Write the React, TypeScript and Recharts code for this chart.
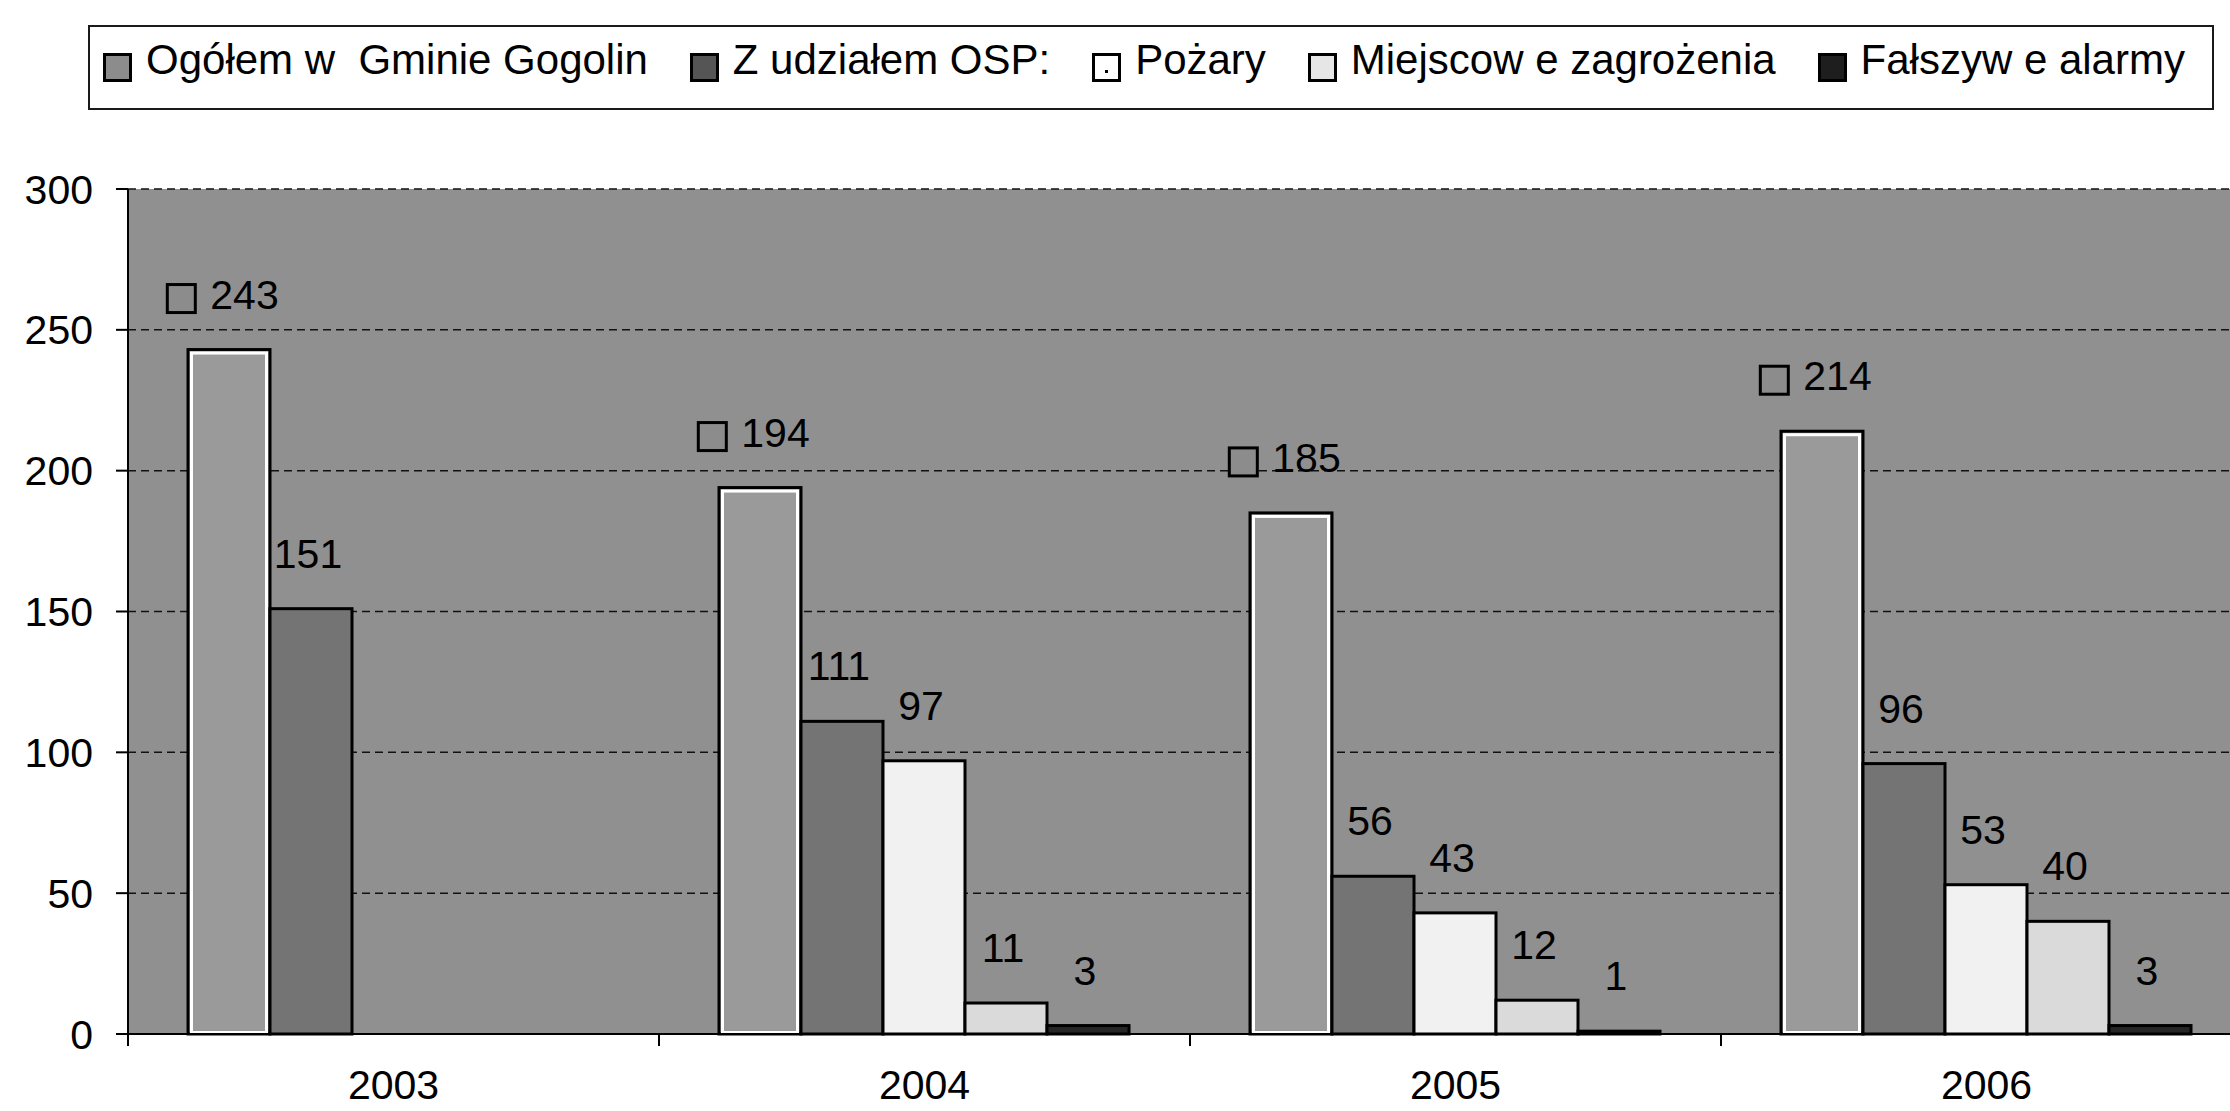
import React from 'react';
import { BarChart, Bar, XAxis, YAxis, CartesianGrid, LabelList } from 'recharts';

const years = ['2003', '2004', '2005', '2006'];
const ogolem = [243, 194, 185, 214];
const zUdzialemOSP = [151, 111, 56, 96];
const pozary = [null, 97, 43, 53];
const miejscoweZagrozenia = [null, 11, 12, 40];
const falszyweAlarmy = [null, 3, 1, 3];
const yTicks = [0, 50, 100, 150, 200, 250, 300];
const seriesNames = [
  'Ogółem w  Gminie Gogolin',
  'Z udziałem OSP:',
  'Pożary',
  'Miejscow e zagrożenia',
  'Fałszyw e alarmy',
];
const seriesKeys = ['ogolem', 'zUdzialemOSP', 'pozary', 'miejscowe', 'falszywe'];

const FONT = '"Liberation Sans", Arial, Helvetica, sans-serif';
const COLORS = ['#9a9a9a', '#747474', '#f1f1f1', '#dadada', '#262626'];
const PLOT_BG = '#909090';

const data = years.map((year, i) => ({
  year,
  ogolem: ogolem[i],
  zUdzialemOSP: zUdzialemOSP[i],
  pozary: pozary[i],
  miejscowe: miejscoweZagrozenia[i],
  falszywe: falszyweAlarmy[i],
}));

const OutlinedBar = (props: any) => {
  const { x, y, width, height, fill } = props;
  if (height == null || !(height > 0) || !isFinite(y)) return null;
  return <rect x={x} y={y} width={width} height={height} fill={fill} stroke="#000" strokeWidth={3} />;
};

const DoubleBar = (props: any) => {
  const { x, y, width, height, fill } = props;
  if (height == null || !(height > 0) || !isFinite(y)) return null;
  return (
    <g>
      <rect x={x} y={y} width={width} height={height} fill={fill} stroke="#000" strokeWidth={3} />
      {height > 10 && (
        <rect x={x + 3.5} y={y + 3.5} width={width - 7} height={height - 5} fill="none" stroke="#fff" strokeWidth={3} />
      )}
    </g>
  );
};

const getBox = (props: any) => {
  const vb = props.viewBox && props.viewBox.width != null ? props.viewBox : props;
  return { x: Number(vb.x), y: Number(vb.y), width: Number(vb.width) };
};

const ValueLabel = (props: any) => {
  const { value } = props;
  if (value == null) return null;
  const { x, y, width } = getBox(props);
  return (
    <text x={x + width / 2 - 3} y={y - 41} textAnchor="middle" fontSize={41} fontFamily={FONT} fill="#000">
      {value}
    </text>
  );
};

const TotalLabel = (props: any) => {
  const { value } = props;
  if (value == null) return null;
  const { x, y, width } = getBox(props);
  const cx = x + width / 2 - 6;
  const textW = String(value).length * 0.556 * 41;
  const groupW = 30 + 13 + textW;
  const left = cx - groupW / 2;
  const base = y - 41;
  return (
    <g>
      <rect x={left} y={base - 24} width={28} height={28} fill="#8c8c8c" stroke="#000" strokeWidth={3} />
      <text x={left + 43} y={base} textAnchor="start" fontSize={41} fontFamily={FONT} fill="#000">
        {value}
      </text>
    </g>
  );
};

const YearTick = (props: any) => {
  const { x, y, payload } = props;
  const off = payload && payload.offset != null ? payload.offset : 265.5;
  return (
    <g>
      <line x1={x - off} x2={x - off} y1={y} y2={y + 12} stroke="#000" strokeWidth={2} />
      <text x={x} y={y + 65} textAnchor="middle" fontSize={41} fontFamily={FONT} fill="#000">
        {payload.value}
      </text>
    </g>
  );
};

const markerStyles: React.CSSProperties[] = [
  { background: '#8c8c8c' },
  { background: '#555555' },
  { background: '#ffffff' },
  { background: '#e6e6e6' },
  { background: '#1e1e1e' },
];

const LegendBox = () => (
  <div
    style={{
      position: 'absolute',
      left: 88,
      top: 25,
      width: 2126,
      height: 85,
      boxSizing: 'border-box',
      border: '2px solid #1a1a1a',
      background: '#fff',
      display: 'flex',
      alignItems: 'flex-start',
      justifyContent: 'space-between',
      padding: '9px 27px 0 13px',
      fontFamily: FONT,
      fontSize: 42,
      lineHeight: '48px',
      color: '#000',
    }}
  >
    {seriesNames.map((name, i) => (
      <div key={seriesKeys[i]} style={{ display: 'flex', alignItems: 'flex-start' }}>
        <div
          style={{
            width: 29,
            height: 29,
            marginTop: 17,
            marginRight: 14,
            boxSizing: 'border-box',
            border: '3px solid #000',
            position: 'relative',
            ...markerStyles[i],
          }}
        >
          {i === 2 && (
            <div style={{ position: 'absolute', left: 10, top: 14, width: 3, height: 3, background: '#000' }} />
          )}
        </div>
        <span style={{ whiteSpace: 'pre' }}>{name}</span>
      </div>
    ))}
  </div>
);

export default function App() {
  return (
    <div
      style={{
        position: 'absolute',
        left: 0,
        top: 0,
        width: 2230,
        height: 1111,
        overflow: 'hidden',
        background: '#fff',
      }}
    >
      <div style={{ position: 'absolute', left: 0, top: 0 }}>
        <BarChart
          width={2262}
          height={1140}
          data={data}
          margin={{ top: 189, right: 10, bottom: 26, left: 0 }}
          barCategoryGap={60}
          barGap={0}
        >
          <CartesianGrid
            vertical={false}
            horizontal={true}
            fill={PLOT_BG}
            stroke="#111"
            strokeWidth={1.5}
            strokeDasharray="8 5"
          />
          <XAxis
            dataKey="year"
            height={80}
            tickSize={0}
            tickMargin={0}
            tickLine={false}
            axisLine={{ stroke: '#000', strokeWidth: 2 }}
            tick={<YearTick />}
            interval={0}
          />
          <YAxis
            width={128}
            domain={[0, 300]}
            ticks={yTicks}
            interval={0}
            tickSize={12}
            tickMargin={23}
            axisLine={{ stroke: '#000', strokeWidth: 2 }}
            tickLine={{ stroke: '#000', strokeWidth: 2 }}
            tick={{ fontSize: 41, fill: '#000', fontFamily: FONT }}
            allowDecimals={false}
          />
          <Bar dataKey="ogolem" name={seriesNames[0]} fill={COLORS[0]} shape={<DoubleBar />} isAnimationActive={false}>
            <LabelList dataKey="ogolem" content={<TotalLabel />} />
          </Bar>
          <Bar dataKey="zUdzialemOSP" name={seriesNames[1]} fill={COLORS[1]} shape={<OutlinedBar />} isAnimationActive={false}>
            <LabelList dataKey="zUdzialemOSP" content={<ValueLabel />} />
          </Bar>
          <Bar dataKey="pozary" name={seriesNames[2]} fill={COLORS[2]} shape={<OutlinedBar />} isAnimationActive={false}>
            <LabelList dataKey="pozary" content={<ValueLabel />} />
          </Bar>
          <Bar dataKey="miejscowe" name={seriesNames[3]} fill={COLORS[3]} shape={<OutlinedBar />} isAnimationActive={false}>
            <LabelList dataKey="miejscowe" content={<ValueLabel />} />
          </Bar>
          <Bar dataKey="falszywe" name={seriesNames[4]} fill={COLORS[4]} shape={<OutlinedBar />} isAnimationActive={false}>
            <LabelList dataKey="falszywe" content={<ValueLabel />} />
          </Bar>
        </BarChart>
      </div>
      <LegendBox />
    </div>
  );
}
